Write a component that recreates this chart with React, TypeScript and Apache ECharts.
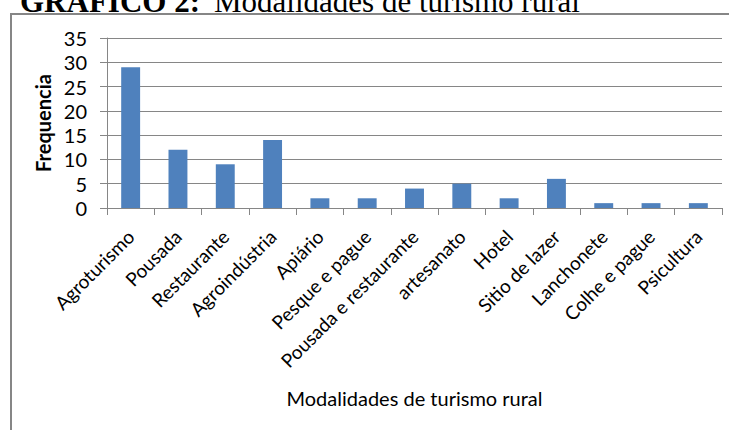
import React, { useEffect, useRef } from "react";
import * as echarts from "echarts";

const categories = [
  "Agroturismo",
  "Pousada",
  "Restaurante",
  "Agroindústria",
  "Apiário",
  "Pesque e pague",
  "Pousada e restaurante",
  "artesanato",
  "Hotel",
  "Sitio de lazer",
  "Lanchonete",
  "Colhe e pague",
  "Psicultura",
];
const frequencia = [29, 12, 9, 14, 2, 2, 4, 5, 2, 6, 1, 1, 1];
const titleBold = "GRÁFICO 2:";
const titleRest = "Modalidades de turismo rural";
const yAxisName = "Frequencia";
const xAxisName = "Modalidades de turismo rural";

const FONT = "Lato, 'Open Sans', sans-serif";
const GRID = "#868686";

export default function App() {
  const ref = useRef<HTMLDivElement>(null);
  useEffect(() => {
    if (!ref.current) return;
    const chart = echarts.init(ref.current, null, { renderer: "svg" });
    chart.setOption({
      animation: false,
      backgroundColor: "#ffffff",
      graphic: [
        {
          type: "rect",
          shape: { x: 11, y: 14, width: 800, height: 500 },
          style: { fill: "none", stroke: GRID, lineWidth: 2 },
        },
        {
          type: "text",
          x: 20,
          y: 1.5,
          style: {
            text: titleBold,
            font: "bold 31px 'Liberation Serif', 'Times New Roman', serif",
            fill: "#000",
            verticalAlign: "middle",
            align: "left",
          },
        },
        {
          type: "text",
          x: 214,
          y: 1.5,
          style: {
            text: titleRest,
            font: "31px 'Liberation Serif', 'Times New Roman', serif",
            fill: "#000",
            verticalAlign: "middle",
            align: "left",
          },
        },
      ],
      grid: { left: 107, right: 7, top: 38, bottom: 222, containLabel: false },
      xAxis: {
        type: "category",
        data: categories,
        boundaryGap: true,
        name: xAxisName,
        nameLocation: "middle",
        nameGap: 180,
        nameTextStyle: { fontFamily: FONT, fontSize: 20, color: "#000" },
        axisLine: { show: true, lineStyle: { color: GRID, width: 1 } },
        axisTick: { show: true, length: 7, alignWithLabel: false, lineStyle: { color: GRID } },
        axisLabel: {
          interval: 0,
          rotate: 45,
          margin: 25,
          fontFamily: FONT,
          fontSize: 19,
          color: "#000",
        },
      },
      yAxis: {
        type: "value",
        min: 0,
        max: 35,
        interval: 5,
        name: yAxisName,
        nameLocation: "middle",
        nameGap: 49,
        nameTextStyle: { fontFamily: FONT, fontSize: 20, fontWeight: "bold", color: "#000" },
        axisLine: { show: true, lineStyle: { color: GRID, width: 1 } },
        axisTick: { show: true, length: 7, lineStyle: { color: GRID } },
        axisLabel: { margin: 20, fontFamily: FONT, fontSize: 20, color: "#000" },
        splitLine: { show: true, lineStyle: { color: GRID, width: 1 } },
      },
      series: [
        {
          type: "bar",
          data: frequencia,
          barCategoryGap: "60%",
          itemStyle: { color: "#4F81BD" },
        },
      ],
    });
    return () => chart.dispose();
  }, []);
  return (
    <div
      ref={ref}
      style={{ position: "absolute", left: 0, top: 0, width: 729, height: 430, background: "#fff" }}
    />
  );
}
